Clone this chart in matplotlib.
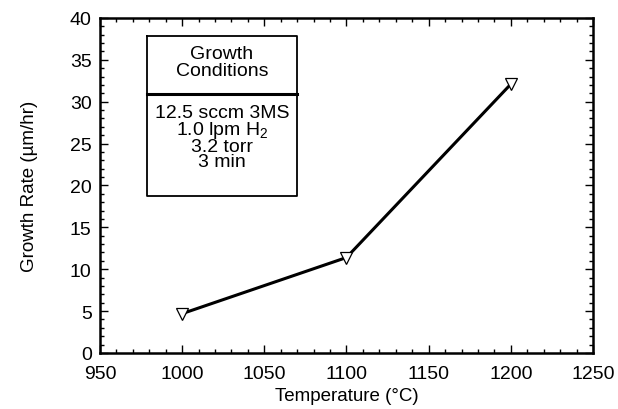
import matplotlib
matplotlib.use("Agg")
import matplotlib.pyplot as plt
from matplotlib.ticker import MultipleLocator

# Growth rate vs temperature
temperature = [1000, 1100, 1200]
growth_rate = [4.7, 11.4, 32.1]

box_title = "Growth\nConditions"
box_lines = ["12.5 sccm 3MS", "1.0 lpm H$_2$", "3.2 torr", "3 min"]

plt.rcParams["font.family"] = ["Liberation Sans", "DejaVu Sans"]
plt.rcParams["mathtext.fontset"] = "custom"
plt.rcParams["mathtext.rm"] = "Liberation Sans"
plt.rcParams["mathtext.it"] = "Liberation Sans:italic"


def main():
    fig = plt.figure(figsize=(6.18, 4.10), dpi=100)
    ax = fig.add_axes([0.1618, 0.1366, 0.7977, 0.8171])

    ax.plot(temperature, growth_rate, color="black", lw=2.2, zorder=2)
    ax.plot(temperature, growth_rate, ls="none", marker="v", ms=8,
            mfc="white", mec="black", mew=0.9, zorder=3)

    ax.set_xlim(950, 1250)
    ax.set_ylim(0, 40)
    ax.xaxis.set_major_locator(MultipleLocator(50))
    ax.xaxis.set_minor_locator(MultipleLocator(10))
    ax.yaxis.set_major_locator(MultipleLocator(5))
    ax.yaxis.set_minor_locator(MultipleLocator(1))
    ax.tick_params(which="both", direction="in", top=True, right=True,
                   width=1, labelsize=14)
    ax.tick_params(which="major", length=6)
    ax.tick_params(axis="x", which="major", pad=9)
    ax.tick_params(axis="y", which="major", pad=6)
    ax.tick_params(which="minor", length=3)
    for s in ax.spines.values():
        s.set_linewidth(1.8)

    ax.set_xlabel("Temperature (°C)", fontsize=13.5, labelpad=3)
    ax.set_ylabel("Growth Rate (µm/hr)", fontsize=13.5, labelpad=23)

    # Growth conditions box
    x0, x1 = 0.095, 0.399
    ytop, ymid, ybot = 0.946, 0.772, 0.469
    ax.plot([x0, x1, x1, x0, x0], [ytop, ytop, ybot, ybot, ytop],
            color="black", lw=1.3, transform=ax.transAxes)
    ax.plot([x0, x1], [ymid, ymid], color="black", lw=2.2,
            transform=ax.transAxes)
    xc = (x0 + x1) / 2
    ax.text(xc, 0.868, box_title, transform=ax.transAxes,
            ha="center", va="center", fontsize=14, linespacing=1.0)
    ax.text(xc, 0.645, "\n".join(box_lines), transform=ax.transAxes,
            ha="center", va="center", fontsize=14, linespacing=0.85)

    fig.savefig("out.png", dpi=100)


if __name__ == "__main__":
    main()
